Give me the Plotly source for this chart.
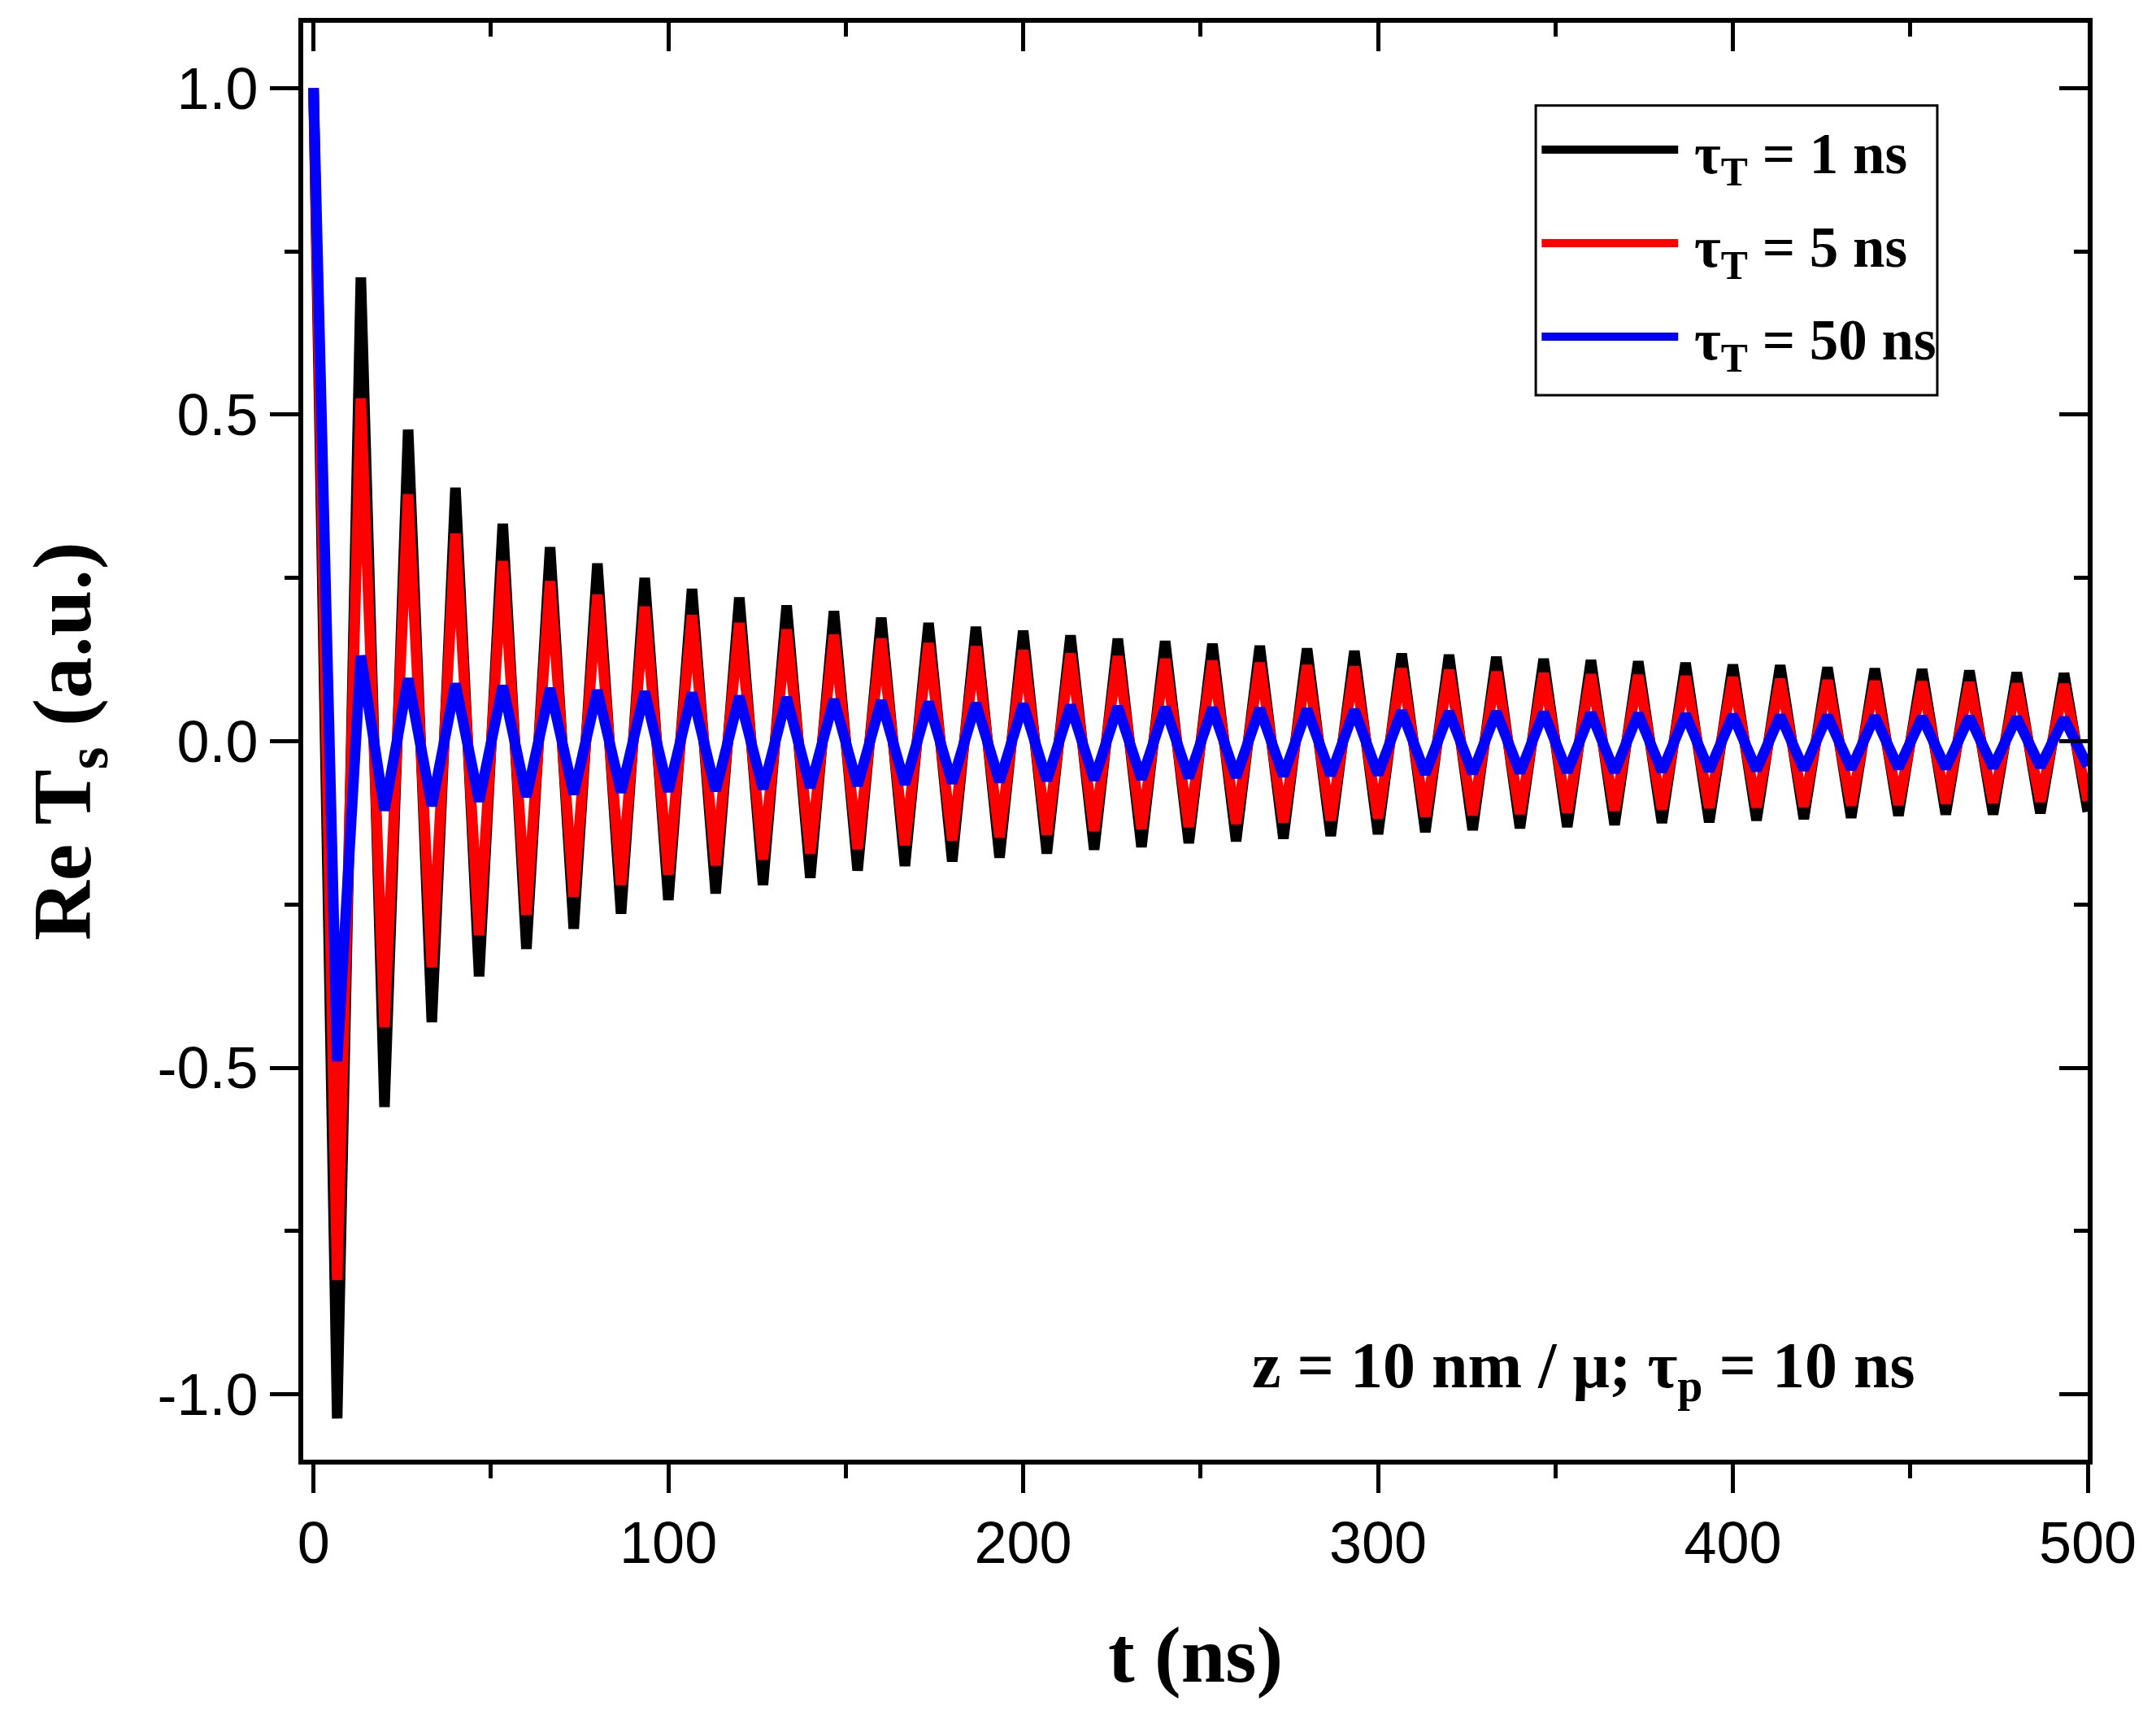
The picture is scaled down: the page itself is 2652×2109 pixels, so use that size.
import numpy as np
import plotly.graph_objects as go

# time axis: 76 samples, 0..500 ns
t_ns = np.linspace(0, 500, 76)

# Re Ts (alternating peak / trough samples)
re_ts_1ns = [1.0, -1.037, 0.71, -0.56, 0.477, -0.43, 0.388, -0.36, 0.333, -0.318,
             0.297, -0.287, 0.272, -0.264, 0.25, -0.243, 0.233, -0.233, 0.22, -0.22,
             0.208, -0.209, 0.199, -0.198, 0.189, -0.191, 0.181, -0.184, 0.175, -0.178,
             0.169, -0.172, 0.162, -0.166, 0.157, -0.162, 0.153, -0.156, 0.149, -0.153,
             0.146, -0.149, 0.142, -0.145, 0.138, -0.142, 0.134, -0.139, 0.132, -0.136,
             0.129, -0.133, 0.126, -0.131, 0.124, -0.128, 0.122, -0.125, 0.120, -0.124,
             0.117, -0.121, 0.116, -0.119, 0.113, -0.117, 0.111, -0.114, 0.110, -0.112,
             0.108, -0.112, 0.105, -0.110, 0.104, -0.108]

re_ts_5ns = [1.0, -0.825, 0.525, -0.438, 0.378, -0.346, 0.318, -0.297, 0.276, -0.266,
             0.245, -0.238, 0.224, -0.22, 0.206, -0.204, 0.193, -0.19, 0.181, -0.181,
             0.171, -0.172, 0.163, -0.165, 0.157, -0.159, 0.150, -0.152, 0.145, -0.147,
             0.139, -0.143, 0.134, -0.137, 0.130, -0.134, 0.126, -0.131, 0.123, -0.126,
             0.120, -0.124, 0.116, -0.121, 0.114, -0.118, 0.111, -0.115, 0.109, -0.113,
             0.106, -0.111, 0.104, -0.109, 0.102, -0.106, 0.101, -0.104, 0.099, -0.102,
             0.098, -0.101, 0.095, -0.100, 0.093, -0.098, 0.092, -0.097, 0.091, -0.095,
             0.090, -0.094, 0.088, -0.092, 0.087, -0.091]

re_ts_50ns = [1.0, -0.49, 0.131, -0.106, 0.096, -0.099, 0.088, -0.092, 0.085, -0.085,
              0.081, -0.081, 0.078, -0.078, 0.076, -0.077, 0.074, -0.076, 0.069, -0.073,
              0.067, -0.071, 0.064, -0.068, 0.062, -0.066, 0.060, -0.064, 0.058, -0.062,
              0.057, -0.060, 0.055, -0.059, 0.053, -0.058, 0.052, -0.056, 0.051, -0.055,
              0.050, -0.053, 0.049, -0.052, 0.048, -0.051, 0.046, -0.050, 0.045, -0.049,
              0.045, -0.048, 0.044, -0.047, 0.043, -0.047, 0.042, -0.046, 0.041, -0.045,
              0.040, -0.044, 0.039, -0.043, 0.039, -0.042, 0.038, -0.041, 0.037, -0.041,
              0.037, -0.040, 0.036, -0.039, 0.035, -0.038]

series = [re_ts_1ns, re_ts_5ns, re_ts_50ns]
names = ["τ<sub>T</sub> = 1 ns", "τ<sub>T</sub> = 5 ns", "τ<sub>T</sub> = 50 ns"]
colors = ["#000000", "#ff0000", "#0000ff"]

x_ticks = [0, 100, 200, 300, 400, 500]
y_ticks = [-1.0, -0.5, 0.0, 0.5, 1.0]
y_ticktext = ["-1.0", "-0.5", "0.0", "0.5", "1.0"]

SERIF = "Liberation Serif, Times New Roman, serif"
SANS = "Liberation Sans, Arial, sans-serif"

fig = go.Figure()
for vals, name, col in zip(series, names, colors):
    fig.add_trace(go.Scatter(x=t_ns, y=vals, mode="lines", name=name,
                             line=dict(color=col, width=13)))
# empty trace so the top/right axes get drawn
fig.add_trace(go.Scatter(x=[None], y=[None], xaxis="x2", yaxis="y2", showlegend=False))

axis_common = dict(showgrid=False, zeroline=False, showline=True, linecolor="black",
                   linewidth=6, ticklen=35, tickwidth=5, tickcolor="black")

fig.update_layout(
    width=2652, height=2109,
    margin=dict(l=365, r=92, t=20, b=322),
    plot_bgcolor="white", paper_bgcolor="white",
    showlegend=False,
    xaxis=dict(range=[-2.9, 500], tickvals=x_ticks, ticks="outside",
               minor=dict(dtick=50, ticks="outside", ticklen=17, tickwidth=5, tickcolor="black"),
               tickfont=dict(family=SANS, size=72, color="black"),
               title=dict(text="<b>t (ns)</b>", font=dict(family=SERIF, size=98, color="black"),
                          standoff=65),
               **axis_common),
    yaxis=dict(range=[-1.1, 1.1], tickvals=y_ticks, ticktext=y_ticktext,
               ticks="outside",
               minor=dict(dtick=0.25, ticks="outside", ticklen=17, tickwidth=5, tickcolor="black"),
               tickfont=dict(family=SANS, size=72, color="black"),
               title=dict(text="<b>Re T<sub>s</sub> (a.u.)</b>", font=dict(family=SERIF, size=102, color="black"),
                          standoff=50),
               **axis_common),
    xaxis2=dict(range=[-2.9, 500], overlaying="x", side="top", tickvals=x_ticks, ticks="inside",
                showticklabels=False,
                minor=dict(dtick=50, ticks="inside", ticklen=17, tickwidth=5, tickcolor="black"),
                **axis_common),
    yaxis2=dict(range=[-1.1, 1.1], overlaying="y", side="right", tickvals=y_ticks, ticks="inside",
                showticklabels=False,
                minor=dict(dtick=0.25, ticks="inside", ticklen=17, tickwidth=5, tickcolor="black"),
                **axis_common),
)

# hand-drawn legend box with long line samples
fig.add_shape(type="rect", xref="paper", yref="paper", x0=0.6907, x1=0.9157, y0=0.7408, y1=0.9424,
              line=dict(color="black", width=3), fillcolor="white", layer="above")
row_y = [0.9117, 0.8466, 0.7816]
for name, col, yy in zip(names, colors, row_y):
    fig.add_shape(type="line", xref="paper", yref="paper", x0=0.694, x1=0.7705, y0=yy, y1=yy,
                  line=dict(color=col, width=10), layer="above")
    fig.add_annotation(xref="paper", yref="paper", x=0.7786, y=yy, text="<b>" + name + "</b>",
                       showarrow=False, xanchor="left", yanchor="middle", yshift=-10,
                       font=dict(family=SERIF, size=71, color="black"))

fig.add_annotation(x=358, y=-0.95, text="<b>z = 10 nm / μ; τ<sub>p</sub> = 10 ns</b>",
                   showarrow=False, xanchor="center", yanchor="middle", yshift=-10,
                   font=dict(family=SERIF, size=80, color="black"))

fig.write_html("out.html")
